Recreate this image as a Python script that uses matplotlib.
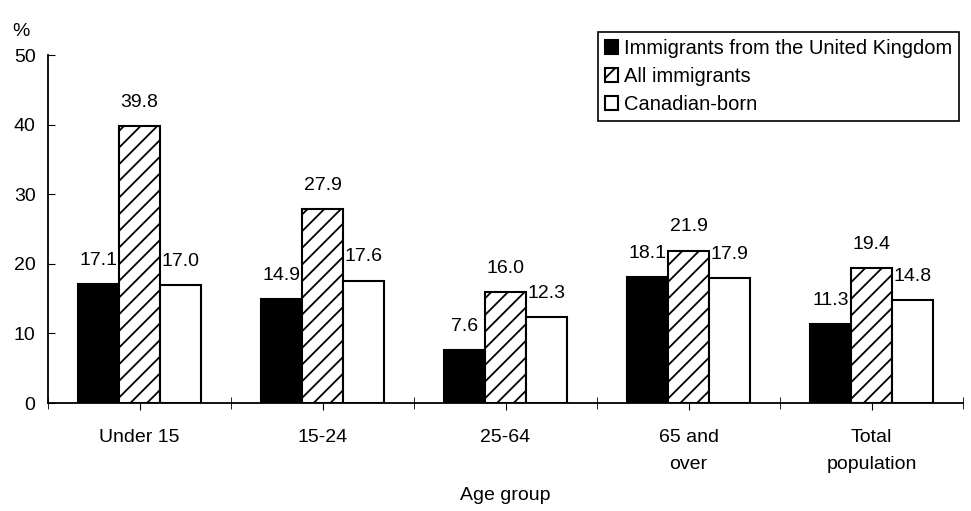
import numpy as np
import matplotlib
matplotlib.use("Agg")
import matplotlib.pyplot as plt
from matplotlib.ticker import FixedLocator

# ---- data ----
age_groups = ["Under 15", "15-24", "25-64", "65 and\nover", "Total\npopulation"]
uk_immigrants = [17.1, 14.9, 7.6, 18.1, 11.3]
all_immigrants = [39.8, 27.9, 16.0, 21.9, 19.4]
canadian_born = [17.0, 17.6, 12.3, 17.9, 14.8]
series_names = ["Immigrants from the United Kingdom", "All immigrants", "Canadian-born"]

plt.rcParams["font.family"] = ["Liberation Sans", "DejaVu Sans"]
plt.rcParams["hatch.linewidth"] = 1.3
FS = 14

fig = plt.figure(figsize=(9.71, 5.11), dpi=100)
ax = fig.add_axes([48 / 971, 1 - 403 / 511, 915 / 971, 348 / 511])

x = np.arange(len(age_groups)) + 0.5
w = 0.224
styles = [dict(facecolor="black", hatch=None),
          dict(facecolor="white", hatch="//"),
          dict(facecolor="white", hatch=None)]
for i, (vals, st, name) in enumerate(zip([uk_immigrants, all_immigrants, canadian_born],
                                         styles, series_names)):
    bars = ax.bar(x + (i - 1) * w, vals, w, edgecolor="black", linewidth=1.5,
                  label=name, **st)
    for b, v in zip(bars, vals):
        ax.annotate(f"{v:.1f}", (b.get_x() + b.get_width() / 2, v),
                    xytext=(0, 17), textcoords="offset points",
                    ha="center", va="center", fontsize=FS)

ax.set_xlim(0, len(age_groups))
ax.set_ylim(0, 50)
ax.set_yticks([0, 10, 20, 30, 40, 50])
ax.tick_params(axis="y", direction="in", length=5, labelsize=FS, pad=9)

ax.set_xticks(x)
ax.set_xticklabels(age_groups, fontsize=FS, linespacing=1.75)
ax.xaxis.set_minor_locator(FixedLocator(np.arange(len(age_groups) + 1)))
ax.tick_params(axis="x", which="major", direction="out", length=5, pad=14)
ax.tick_params(axis="x", which="minor", direction="inout", length=8)

for s in ["top", "right"]:
    ax.spines[s].set_visible(False)
ax.spines["left"].set_linewidth(1.3)
ax.spines["bottom"].set_linewidth(1.3)

ax.set_xlabel("Age group", fontsize=FS, labelpad=10)
fig.text(12 / 971, 1 - 32 / 511, "%", fontsize=FS, ha="left", va="center")

leg = ax.legend(loc="upper left", bbox_to_anchor=(598 / 971, 1 - 32 / 511),
                bbox_transform=fig.transFigure, fontsize=FS + 0.5, frameon=True,
                fancybox=False, edgecolor="black", framealpha=1,
                handlelength=0.65, handleheight=0.65, handletextpad=0.3,
                labelspacing=0.45, borderpad=0.35, borderaxespad=0)
leg.get_frame().set_linewidth(1.2)

fig.savefig("out.png", dpi=100)
